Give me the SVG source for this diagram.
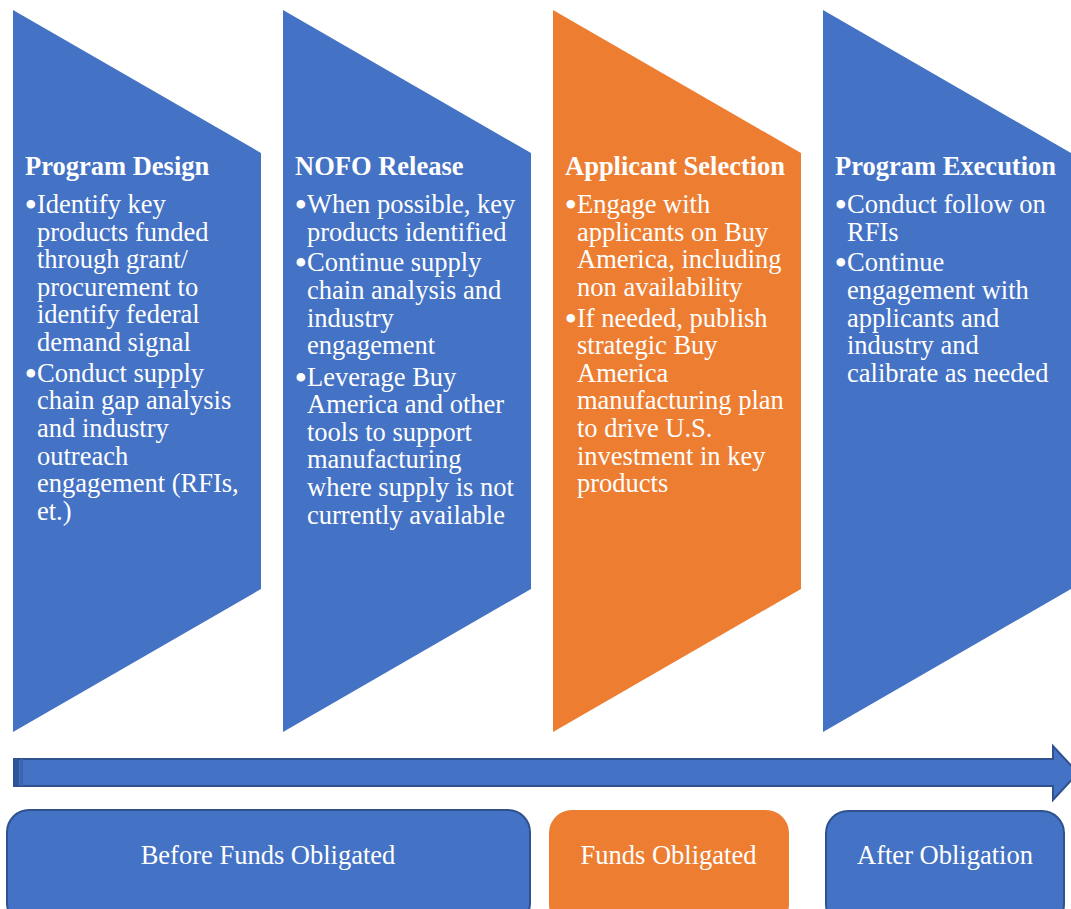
<svg xmlns="http://www.w3.org/2000/svg" width="1071" height="909" viewBox="0 0 1071 909">
  <style>
    .blue { fill: #4472C4; }
    .orange { fill: #ED7D31; }
    .title { font-family: "Liberation Serif", "Times New Roman", serif; font-size: 26.5px; font-weight: bold; fill: #FFFFFF; }
    .body { font-family: "Liberation Serif", "Times New Roman", serif; font-size: 26.5px; fill: #FFFFFF; }
    .body .dot { font-size: 36px; }
    .label { font-family: "Liberation Serif", "Times New Roman", serif; font-size: 26.5px; fill: #FFFFFF; text-anchor: middle; }
    .box-blue { fill: #4472C4; stroke: #2F528F; stroke-width: 2; }
    .box-orange { fill: #ED7D31; stroke: #ED7D31; stroke-width: 2; }
  </style>

  <!-- Stage 1: Program Design -->
  <g id="stage-program-design">
    <polygon class="blue" points="13,10 261,153 261,589 13,732"/>
    <text class="title" x="25" y="175">Program Design</text>
    <g class="body">
      <text class="dot" x="24.5" y="217">•</text>
      <text x="37" y="213">Identify key</text>
      <text x="37" y="240.6">products funded</text>
      <text x="37" y="268.2">through grant/</text>
      <text x="37" y="295.8">procurement to</text>
      <text x="37" y="323.4">identify federal</text>
      <text x="37" y="351">demand signal</text>
      <text class="dot" x="24.5" y="385.8">•</text>
      <text x="37" y="381.8">Conduct supply</text>
      <text x="37" y="409.4">chain gap analysis</text>
      <text x="37" y="437">and industry</text>
      <text x="37" y="464.6">outreach</text>
      <text x="37" y="492.2">engagement (RFIs,</text>
      <text x="37" y="519.8">et.)</text>
    </g>
  </g>

  <!-- Stage 2: NOFO Release -->
  <g id="stage-nofo-release">
    <polygon class="blue" points="283,10 531,153 531,589 283,732"/>
    <text class="title" x="295" y="175">NOFO Release</text>
    <g class="body">
      <text class="dot" x="294.5" y="217">•</text>
      <text x="307" y="213">When possible, key</text>
      <text x="307" y="240.6">products identified</text>
      <text class="dot" x="294.5" y="275.4">•</text>
      <text x="307" y="271.4">Continue supply</text>
      <text x="307" y="299">chain analysis and</text>
      <text x="307" y="326.6">industry</text>
      <text x="307" y="354.2">engagement</text>
      <text class="dot" x="294.5" y="389.5">•</text>
      <text x="307" y="385.5">Leverage Buy</text>
      <text x="307" y="413.1">America and other</text>
      <text x="307" y="440.7">tools to support</text>
      <text x="307" y="468.3">manufacturing</text>
      <text x="307" y="495.9">where supply is not</text>
      <text x="307" y="523.5">currently available</text>
    </g>
  </g>

  <!-- Stage 3: Applicant Selection -->
  <g id="stage-applicant-selection">
    <polygon class="orange" points="553,10 801,153 801,589 553,732"/>
    <text class="title" x="565" y="175">Applicant Selection</text>
    <g class="body">
      <text class="dot" x="564.5" y="217">•</text>
      <text x="577" y="213">Engage with</text>
      <text x="577" y="240.6">applicants on Buy</text>
      <text x="577" y="268.2">America, including</text>
      <text x="577" y="295.8">non availability</text>
      <text class="dot" x="564.5" y="330.6">•</text>
      <text x="577" y="326.6">If needed, publish</text>
      <text x="577" y="354.2">strategic Buy</text>
      <text x="577" y="381.8">America</text>
      <text x="577" y="409.4">manufacturing plan</text>
      <text x="577" y="437">to drive U.S.</text>
      <text x="577" y="464.6">investment in key</text>
      <text x="577" y="492.2">products</text>
    </g>
  </g>

  <!-- Stage 4: Program Execution -->
  <g id="stage-program-execution">
    <polygon class="blue" points="823,10 1071,153 1071,589 823,732"/>
    <text class="title" x="835" y="175">Program Execution</text>
    <g class="body">
      <text class="dot" x="834.5" y="217">•</text>
      <text x="847" y="213">Conduct follow on</text>
      <text x="847" y="240.6">RFIs</text>
      <text class="dot" x="834.5" y="275.4">•</text>
      <text x="847" y="271.4">Continue</text>
      <text x="847" y="299">engagement with</text>
      <text x="847" y="326.6">applicants and</text>
      <text x="847" y="354.2">industry and</text>
      <text x="847" y="381.8">calibrate as needed</text>
    </g>
  </g>

  <!-- Timeline arrow -->
  <g id="connectors">
    <polygon points="14,759 1053,759 1053,746 1078,773 1053,800 1053,786 14,786" fill="#4472C4" stroke="#2F528F" stroke-width="2" stroke-linejoin="miter"/>
    <rect x="14" y="759" width="5" height="27" fill="#2F5597"/>
    <rect x="20" y="759" width="3" height="27" fill="#3A64B0"/>
  </g>

  <!-- Funding phases -->
  <g id="phase-before">
    <rect class="box-blue" x="7" y="810" width="523" height="115" rx="22" ry="22"/>
    <text class="label" x="268" y="864">Before Funds Obligated</text>
  </g>
  <g id="phase-obligated">
    <rect class="box-orange" x="550" y="811" width="238" height="115" rx="22" ry="22"/>
    <text class="label" x="668.5" y="864">Funds Obligated</text>
  </g>
  <g id="phase-after">
    <rect class="box-blue" x="826" y="811" width="238" height="115" rx="22" ry="22"/>
    <text class="label" x="945" y="864">After Obligation</text>
  </g>
</svg>
